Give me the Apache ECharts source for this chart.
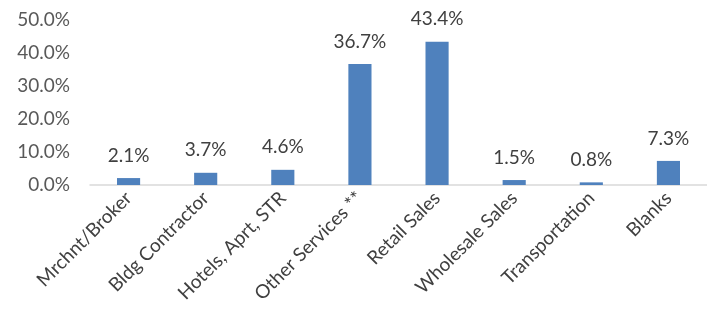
<!DOCTYPE html>
<html>
<head>
<meta charset="utf-8">
<script src="https://cdn.jsdelivr.net/npm/echarts@6/dist/echarts.min.js"></script>
<style>
  html, body { margin: 0; padding: 0; background: #fff; }
  #chart { width: 707px; height: 318px; }
</style>
</head>
<body>
<div id="chart"></div>
<script type="text/javascript">
// categories and shares (%)
var categories = ['Mrchnt/Broker', 'Bldg Contractor', 'Hotels, Aprt, STR', 'Other Services **',
    'Retail Sales', 'Wholesale Sales', 'Transportation', 'Blanks'];
var shares = [2.1, 3.7, 4.6, 36.7, 43.4, 1.5, 0.8, 7.3];
var yTicks = [0, 10, 20, 30, 40, 50];

var chart = echarts.init(document.getElementById('chart'));
var option = {
    animation: false,
    textStyle: { fontFamily: 'Lato' },
    grid: {
        left: 90,
        right: -15,
        top: 20,
        bottom: 133
    },
    xAxis: {
        type: 'category',
        data: categories,
        axisLine: { lineStyle: { color: '#d9d9d9', width: 1.5 } },
        axisTick: { show: false },
        axisLabel: {
            rotate: 45,
            interval: 0,
            margin: 10,
            color: '#404040',
            fontSize: 19,
            fontFamily: 'Lato'
        }
    },
    yAxis: {
        type: 'value',
        min: yTicks[0],
        max: yTicks[yTicks.length - 1],
        interval: 10,
        splitLine: { show: false },
        axisLine: { show: false },
        axisTick: { show: false },
        axisLabel: {
            margin: 20,
            color: '#595959',
            fontSize: 19,
            fontFamily: 'Lato',
            formatter: function (v) { return v.toFixed(1) + '%'; }
        }
    },
    series: [{
        type: 'bar',
        data: shares,
        barWidth: '30%',
        itemStyle: { color: '#4f81bd' },
        label: {
            show: true,
            position: 'top',
            distance: 13,
            color: '#404040',
            fontSize: 19,
            fontFamily: 'Lato',
            formatter: function (p) { return p.value.toFixed(1) + '%'; }
        }
    }]
};
chart.setOption(option);
</script>
</body>
</html>
